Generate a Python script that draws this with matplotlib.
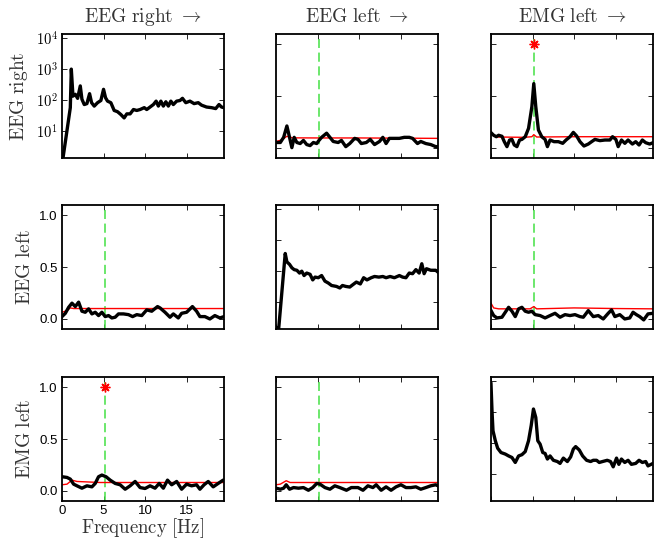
import numpy as np
import matplotlib
matplotlib.use('Agg')
import matplotlib.pyplot as plt
from matplotlib.ticker import FixedLocator, FuncFormatter, NullLocator

plt.rcParams['font.family'] = ['Liberation Sans', 'DejaVu Sans']
plt.rcParams['mathtext.fontset'] = 'cm'

channels = ['EEG right', 'EEG left', 'EMG left']
peak_freq = 5.2   # dashed line / significance marker
xlim = (0, 19.5)

# diagonal: power spectra, stored as log10(power)
f_p11 = [0, 0.12, 1.0, 1.12, 1.32, 1.6, 1.88, 2.2, 2.4, 2.68, 3.0, 3.32, 3.56, 3.88, 4.28,
         4.68, 5.0, 5.24, 5.48, 5.88, 6.28, 6.68, 7.08, 7.48, 7.8, 8.2, 8.6, 9.0, 9.4, 9.9,
         10.2, 10.6, 11.0, 11.33, 11.6, 11.9, 12.2, 12.5, 12.8, 13.1, 13.4, 13.8, 14.2,
         14.5, 14.9, 15.4, 15.9, 16.4, 16.8, 17.4, 18.0, 18.5, 18.9, 19.2, 19.5]
lp11 = [0.14, 0.14, 1.76, 3.0, 2.13, 2.19, 2.06, 2.46, 2.03, 1.86, 1.89, 2.21, 1.92, 1.81,
        1.92, 1.99, 2.35, 2.08, 1.97, 1.92, 1.67, 1.63, 1.54, 1.43, 1.56, 1.56, 1.70, 1.67,
        1.70, 1.76, 1.70, 1.78, 1.86, 1.97, 1.81, 1.97, 1.81, 1.95, 1.81, 1.97, 1.86, 1.97,
        1.99, 2.06, 1.92, 1.97, 1.89, 1.92, 1.84, 1.78, 1.76, 1.73, 1.86, 1.78, 1.76]

f_p22 = [0, 0.32, 1.11, 1.31, 1.63, 1.91, 2.19, 2.51, 2.83, 3.1, 3.38, 3.7, 4.1, 4.42, 4.7,
         5.09, 5.49, 5.89, 6.29, 6.69, 7.28, 7.68, 8.0, 8.4, 8.88, 9.27, 9.67, 10.15, 10.55,
         10.95, 11.46, 11.86, 12.38, 12.86, 13.25, 13.73, 14.25, 14.85, 15.24, 15.64,
         16.04, 16.44, 16.84, 17.23, 17.55, 17.83, 18.11, 18.63, 19.22, 19.5]
lp22 = [0.19, 0.14, 2.57, 2.30, 2.22, 2.11, 2.05, 2.03, 1.94, 2.0, 1.86, 1.94, 1.90, 1.72,
        1.81, 1.79, 1.86, 1.68, 1.62, 1.54, 1.51, 1.46, 1.54, 1.51, 1.49, 1.57, 1.65, 1.59,
        1.79, 1.72, 1.79, 1.83, 1.81, 1.83, 1.79, 1.83, 1.79, 1.86, 1.81, 1.79, 1.94, 1.92,
        2.05, 1.94, 2.24, 1.92, 2.08, 2.03, 2.03, 1.97]

f_p33 = [0, 0.12, 0.24, 0.52, 0.8, 1.2, 1.72, 2.12, 2.52, 2.92, 3.32, 3.72, 4.12, 4.52, 4.84,
         5.11, 5.39, 5.63, 5.91, 6.23, 6.51, 6.79, 7.11, 7.51, 7.99, 8.31, 8.71, 9.19, 9.59,
         9.91, 10.19, 10.63, 11.03, 11.51, 11.99, 12.31, 12.71, 13.03, 13.43, 13.99, 14.39,
         14.71, 15.11, 15.39, 15.7, 16.1, 16.5, 16.9, 17.42, 17.82, 18.22, 18.62, 18.9, 19.5]
lp33 = [3.91, 3.05, 2.40, 2.08, 1.84, 1.70, 1.65, 1.59, 1.54, 1.38, 1.59, 1.63, 1.73, 2.08,
        2.57, 3.10, 2.83, 2.08, 1.97, 1.70, 1.67, 1.49, 1.59, 1.45, 1.41, 1.35, 1.52, 1.41,
        1.56, 1.81, 1.89, 1.78, 1.59, 1.45, 1.41, 1.45, 1.45, 1.38, 1.41, 1.45, 1.41, 1.24,
        1.52, 1.32, 1.49, 1.38, 1.45, 1.32, 1.35, 1.45, 1.38, 1.41, 1.27, 1.35]

# off-diagonal: coherence-like measure (black) and threshold (red)
f_c12 = [0, 0.52, 0.92, 1.31, 1.63, 1.91, 2.19, 2.51, 2.91, 3.30, 3.70, 4.10, 4.50, 4.90,
         5.17, 5.49, 6.09, 6.49, 6.89, 7.48, 7.88, 8.40, 8.88, 9.47, 9.87, 10.27, 10.87,
         11.34, 11.86, 12.46, 12.86, 13.25, 13.65, 14.25, 14.85, 15.44, 16.04, 16.44, 17.03,
         17.43, 18.03, 18.63, 19.22, 19.5]
c12 = [0.05, 0.05, 0.10, 0.21, 0.10, 0.0, 0.10, 0.05, 0.04, 0.07, 0.03, 0.02, 0.05, 0.04,
       0.07, 0.10, 0.14, 0.10, 0.06, 0.05, 0.07, 0.01, 0.04, 0.09, 0.08, 0.04, 0.05, 0.08,
       0.03, 0.06, 0.10, 0.04, 0.09, 0.09, 0.09, 0.10, 0.10, 0.09, 0.04, 0.06, 0.04, 0.03,
       0.01, 0.01]
f_t12 = [0, 0.7, 1.3, 2.0, 5.0, 10.0, 15.0, 19.5]
t12 = [0.06, 0.075, 0.11, 0.095, 0.094, 0.094, 0.092, 0.09]

f_c13 = [0, 0.32, 0.64, 0.92, 1.32, 1.6, 1.92, 2.24, 2.52, 2.8, 3.12, 3.44, 3.72, 4.12, 4.52,
         4.92, 5.15, 5.39, 5.71, 6.11, 6.51, 6.79, 7.11, 7.59, 8.11, 8.63, 9.03, 9.51, 9.91,
         10.31, 10.71, 11.19, 11.71, 12.11, 12.51, 13.11, 13.71, 14.31, 14.63, 15.03, 15.31,
         15.71, 16.11, 16.5, 17.02, 17.42, 17.82, 18.22, 18.62, 19.1, 19.5]
c13 = [0.145, 0.12, 0.106, 0.12, 0.11, 0.058, 0.01, 0.074, 0.08, 0.026, 0.01, 0.074, 0.08,
       0.106, 0.187, 0.397, 0.62, 0.397, 0.171, 0.106, 0.08, 0.01, 0.074, 0.058, 0.058,
       0.042, 0.074, 0.106, 0.148, 0.113, 0.058, 0.016, 0.035, 0.058, 0.08, 0.068, 0.074,
       0.074, 0.106, 0.08, 0.01, 0.074, 0.042, 0.074, 0.035, 0.058, 0.026, 0.074, 0.048,
       0.035, 0.048]
f_t13 = [0, 0.32, 0.92, 4.0, 4.92, 5.15, 5.5, 10.0, 15.0, 19.5]
t13 = [0.148, 0.113, 0.103, 0.1, 0.106, 0.126, 0.103, 0.106, 0.106, 0.106]

f_c21 = [0, 0.4, 0.8, 1.2, 1.6, 2.0, 2.4, 2.8, 3.2, 3.6, 4.0, 4.4, 4.8, 5.2, 5.6, 6.0, 6.4,
         6.8, 7.4, 8.0, 8.5, 9.0, 9.6, 10.2, 10.8, 11.5, 11.8, 12.4, 13.0, 13.4, 14.0, 14.4,
         15.0, 15.7, 16.2, 16.6, 17.2, 17.8, 18.4, 19.0, 19.5]
c21 = [0.02, 0.052, 0.11, 0.15, 0.117, 0.16, 0.072, 0.062, 0.095, 0.046, 0.062, 0.03, 0.062,
       0.02, 0.03, 0.007, 0.014, 0.046, 0.046, 0.039, 0.02, 0.039, 0.03, 0.085, 0.072, 0.117,
       0.104, 0.062, 0.014, 0.046, 0.007, 0.052, 0.062, 0.117, 0.072, 0.02, 0.02, -0.003,
       0.03, 0.007, 0.02]
f_t21 = [0, 0.6, 1.0, 1.4, 8.0, 19.5]
t21 = [0.062, 0.078, 0.104, 0.098, 0.098, 0.098]

f_c23 = [0, 0.32, 0.72, 1.32, 1.72, 2.12, 2.52, 2.92, 3.32, 3.72, 4.12, 4.52, 4.92, 5.31,
         5.91, 6.51, 7.11, 7.71, 8.31, 8.91, 9.51, 10.11, 10.71, 11.11, 11.71, 12.31, 12.91,
         13.51, 14.11, 14.51, 14.91, 15.5, 16.1, 16.7, 17.1, 17.5, 17.9, 18.38, 18.9, 19.5]
c23 = [0.078, 0.03, 0.007, 0.014, 0.062, 0.11, 0.072, 0.02, 0.095, 0.11, 0.072, 0.062,
       0.072, 0.039, 0.03, 0.007, 0.03, 0.052, 0.014, 0.039, 0.03, 0.039, 0.02, 0.014, 0.078,
       0.02, 0.03, -0.003, 0.052, 0.085, 0.02, 0.039, -0.003, 0.007, 0.062, 0.039, 0.02,
       -0.012, 0.046, 0.052]
f_t23 = [0, 0.32, 0.92, 4.7, 5.15, 5.5, 10.0, 15.0, 19.5]
t23 = [0.15, 0.104, 0.095, 0.095, 0.117, 0.095, 0.104, 0.098, 0.095]

f_c31 = [0, 0.6, 1.0, 1.4, 1.8, 2.4, 3.0, 3.6, 4.0, 4.4, 4.8, 5.3, 5.8, 6.4, 7.0, 7.6, 8.2,
         8.8, 9.4, 10.0, 10.6, 11.2, 11.7, 12.2, 12.7, 13.2, 13.8, 14.4, 15.0, 15.6, 16.2,
         16.6, 17.1, 17.6, 18.2, 18.8, 19.4, 19.5]
c31 = [0.135, 0.128, 0.112, 0.063, 0.047, 0.024, 0.047, 0.037, 0.07, 0.135, 0.151, 0.135,
       0.102, 0.07, 0.057, 0.014, 0.047, 0.089, 0.03, 0.021, 0.047, 0.024, 0.07, 0.024,
       0.102, 0.057, 0.089, 0.014, 0.063, 0.047, 0.057, 0.014, 0.057, 0.089, 0.037, 0.07,
       0.102, 0.102]
f_t31 = [0, 0.6, 1.2, 1.8, 4.6, 19.5]
t31 = [0.057, 0.063, 0.102, 0.089, 0.079, 0.079]

f_c32 = [0, 0.52, 0.92, 1.23, 1.63, 2.11, 2.71, 3.30, 3.90, 4.42, 4.90, 5.29, 5.89, 6.49,
         7.08, 7.68, 8.48, 9.07, 9.87, 10.47, 11.06, 11.66, 12.06, 12.66, 13.25, 13.85,
         14.45, 15.04, 15.64, 16.24, 16.84, 17.43, 18.03, 18.63, 19.22, 19.5]
c32 = [0.024, 0.014, 0.024, 0.057, 0.014, 0.03, 0.024, 0.03, 0.004, 0.03, 0.07, 0.063,
       0.03, 0.014, 0.047, 0.03, 0.004, 0.03, 0.03, 0.004, 0.047, 0.03, 0.057, 0.004,
       0.037, 0.004, 0.037, 0.057, 0.03, 0.03, 0.037, 0.014, 0.03, 0.047, 0.057, 0.047]
f_t32 = [0, 0.52, 1.23, 1.7, 4.0, 19.5]
t32 = [0.057, 0.063, 0.096, 0.079, 0.079, 0.079]

power = {0: (f_p11, lp11), 1: (f_p22, lp22), 2: (f_p33, lp33)}
coh = {(0, 1): (f_c12, c12, f_t12, t12), (0, 2): (f_c13, c13, f_t13, t13),
       (1, 0): (f_c21, c21, f_t21, t21), (1, 2): (f_c23, c23, f_t23, t23),
       (2, 0): (f_c31, c31, f_t31, t31), (2, 1): (f_c32, c32, f_t32, t32)}
stars = [(0, 2), (2, 0)]

fig = plt.figure(figsize=(6.56, 5.4), dpi=100)
W, H = 656, 540
lefts = [62, 276, 491]
tops = [34, 205, 377]
pw, ph = 162, 124

green = '#44e044'
for i in range(3):
    for j in range(3):
        ax = fig.add_axes([lefts[j] / W, 1 - (tops[i] + ph) / H, pw / W, ph / H])
        if i == j:
            f, lp = power[i]
            ax.plot(f, 10 ** np.array(lp), color='k', lw=2.4)
            ax.set_yscale('log')
            ax.set_ylim(1.38, 1.35e4)
            ax.yaxis.set_major_locator(FixedLocator([10, 100, 1000, 10000]))
            ax.yaxis.set_minor_locator(NullLocator())
            ax.yaxis.set_major_formatter(
                FuncFormatter(lambda v, p: r'$\mathsf{10^{%d}}$' % round(np.log10(v))))
        else:
            f, c, ft, t = coh[(i, j)]
            ax.vlines(peak_freq, -0.1, 1.05, colors=green, linestyles=(0, (6, 3)), lw=1.1)
            ax.plot(ft, t, color='red', lw=1.0)
            ax.plot(f, c, color='k', lw=2.4)
            if (i, j) in stars:
                ax.plot(peak_freq, 1.0, marker=(8, 2, 0), color='red', ms=7, mew=1.0)
            ax.set_ylim(-0.1, 1.1)
            ax.set_yticks([0, 0.5, 1.0])
            ax.set_yticklabels(['0.0', '0.5', '1.0'])
        ax.set_xlim(*xlim)
        ax.set_xticks([0, 5, 10, 15])
        ax.tick_params(direction='in', top=True, right=True, length=3.5, width=0.6,
                       labelsize=9.5, pad=3)
        if i == j:
            ax.tick_params(axis='y', labelsize=10.5)
        for s in ax.spines.values():
            s.set_linewidth(1.3)
        if j != 0:
            ax.set_yticklabels([])
        if not (i == 2 and j == 0):
            ax.set_xticklabels([])
        if j == 0:
            ax.set_ylabel(r'$\mathrm{%s}$' % channels[i].replace(' ', r'\ '), fontsize=14,
                          color='#333333', labelpad=4)
        if i == 0:
            ax.set_title(r'$\mathrm{%s}\ \rightarrow$' % channels[j].replace(' ', r'\ '),
                         fontsize=14, color='#333333', pad=9)
        if i == 2 and j == 0:
            ax.set_xlabel(r'$\mathrm{Frequency\ [Hz]}$', fontsize=13.5, color='#333333',
                          labelpad=-1)

fig.savefig('out.png', dpi=100)
